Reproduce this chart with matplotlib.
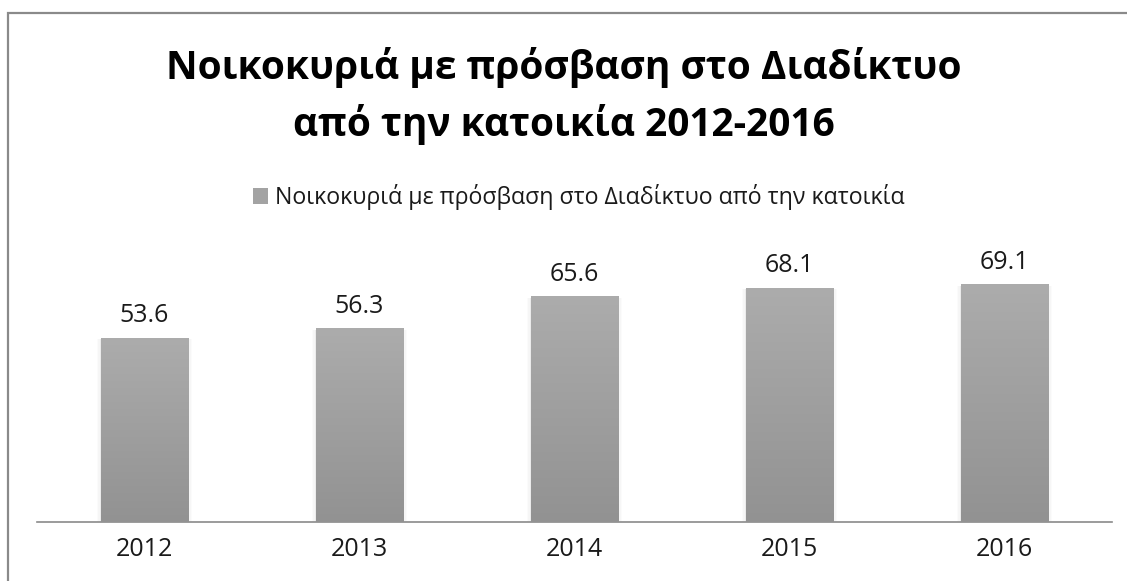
import numpy as np
import matplotlib.pyplot as plt
from matplotlib.patches import Rectangle, Patch
from matplotlib.colors import LinearSegmentedColormap

years = ['2012', '2013', '2014', '2015', '2016']
values = [53.6, 56.3, 65.6, 68.1, 69.1]
series_name = 'Νοικοκυριά με πρόσβαση στο Διαδίκτυο από την κατοικία'
title = 'Νοικοκυριά με πρόσβαση στο Διαδίκτυο\nαπό την κατοικία 2012-2016'

plt.rcParams['font.family'] = ['Open Sans', 'DejaVu Sans']

fig = plt.figure(figsize=(11.27, 5.81), dpi=100)
W, H = 1127, 581

# outer chart frame
fig.patches.append(Rectangle((8 / W, -0.1), 1.2, 1.1 - 13 / H, transform=fig.transFigure,
                             fill=False, edgecolor='#8a8a8a', linewidth=1.6))

ax = fig.add_axes([37 / W, 59 / H, 1075 / W, 292 / H])
x = np.arange(len(years))
bars = ax.bar(x, values, width=0.405, color='#a0a0a0', zorder=2)

# vertical gradient on each bar, darker at the bottom
bar_cmap = LinearSegmentedColormap.from_list('bar', ['#929292', '#acacac'])
grad = np.linspace(0, 1, 256).reshape(-1, 1)
for b in bars:
    x0, w, h = b.get_x(), b.get_width(), b.get_height()
    ax.imshow(grad, extent=(x0, x0 + w, 0, h), aspect='auto', cmap=bar_cmap,
              origin='lower', zorder=3)
    # soft shadow at the sides
    for k, a in enumerate([0.10, 0.06, 0.03]):
        off = 0.006 * (k + 1)
        ax.add_patch(Rectangle((x0 - off, 0), w + 2 * off, h - 0.3, facecolor='#9a9a9a',
                               alpha=a, edgecolor='none', zorder=1))

for xi, v in zip(x, values):
    ax.text(xi, v + 3.0, f'{v:.1f}', ha='center', va='bottom', fontsize=18, color='#1a1a1a')

ax.set_xlim(-0.5, len(years) - 0.5)
ax.set_ylim(0, 292 / 3.43)
ax.set_xticks(x)
ax.set_xticklabels(years, fontsize=18, color='#1a1a1a')
ax.tick_params(axis='x', length=0, pad=11)
ax.set_yticks([])
for s in ['top', 'right', 'left']:
    ax.spines[s].set_visible(False)
ax.spines['bottom'].set_color('#8a8a8a')
ax.spines['bottom'].set_linewidth(1.2)
ax.set_facecolor('none')

fig.text(0.5, 1 - 96 / H, title, ha='center', va='center', fontsize=28,
         fontweight='bold', color='#000000', linespacing=1.5)

fig.legend(handles=[Patch(facecolor='#a3a3a3', edgecolor='none', label=series_name)],
           loc='center', bbox_to_anchor=(579 / W, 1 - 197 / H), frameon=False,
           fontsize=16.7, handlelength=0.65, handleheight=0.65, handletextpad=0.3,
           labelcolor='#1a1a1a')

fig.savefig('out.png', dpi=100)
